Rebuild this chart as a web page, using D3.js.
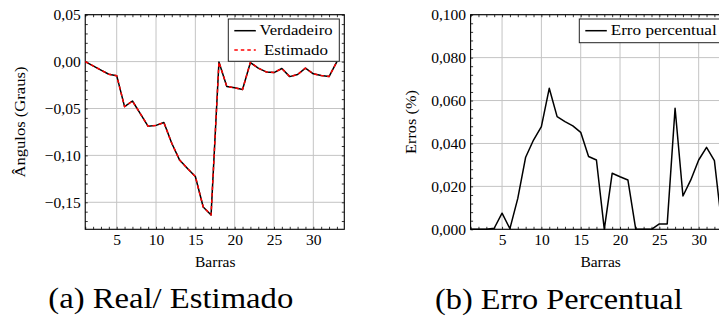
<!DOCTYPE html>
<html>
<head>
<meta charset="utf-8">
<script src="https://cdn.jsdelivr.net/npm/d3@7"></script>
<style>
body{margin:0;background:#fff}
svg{display:block}
svg text{font-family:"Liberation Serif" !important}
</style>
</head>
<body>
<svg width="719" height="320"></svg>
<script>
var barras = [1,2,3,4,5,6,7,8,9,10,11,12,13,14,15,16,17,18,19,20,21,22,23,24,25,26,27,28,29,30,31,32,33];
var verdadeiro = [0,-0.0045,-0.009,-0.0135,-0.015,-0.048,-0.042,-0.0555,-0.069,-0.068,-0.065,-0.087,-0.105,-0.114,-0.1225,-0.155,-0.1635,-0.0005,-0.0265,-0.028,-0.0297,-0.001,-0.007,-0.011,-0.0117,-0.0074,-0.016,-0.0138,-0.007,-0.013,-0.0148,-0.016,0];
var estimado = [0,-0.0045,-0.009,-0.0135,-0.015,-0.048,-0.042,-0.0555,-0.069,-0.068,-0.065,-0.087,-0.105,-0.114,-0.1225,-0.155,-0.1635,-0.0005,-0.0265,-0.028,-0.0297,-0.001,-0.007,-0.011,-0.0117,-0.0074,-0.016,-0.0138,-0.007,-0.013,-0.0148,-0.016,0];
var erroPercentual = [0,0,0,0.0005,0.0075,0.0003,0.0144,0.0336,0.0416,0.0478,0.0657,0.0525,0.0502,0.0482,0.0452,0.0339,0.0323,0,0.0261,0.0245,0.023,0,0,0,0.0025,0.0025,0.0564,0.0155,0.023,0.0323,0.0382,0.032,0];
var xTicks = [5,10,15,20,25,30];
var yTicksA = [-0.15,-0.10,-0.05,0.00,0.05];
var yTicksB = [0,0.02,0.04,0.06,0.08,0.10];

var svg = d3.select("svg");
var fs = 15.5;
var gridColor = "#c4c4c4";

var comma = function(f){ return function(d){ return f(d).replace(".", ","); }; };

var panel = function(o){
    var g = svg.append("g");
    var x = d3.scaleLinear().domain([1, 33.94]).range([o.left, o.left + 259.06]);
    var y = d3.scaleLinear().domain(o.yDom).range([229.3, 14.7]);
    var top = 14.7, bottom = 229.3, left = o.left, right = o.left + 259.06;

    // grid
    g.append("g").selectAll("line").data(xTicks).enter().append("line")
	.attr("x1", function(d){return x(d)}).attr("x2", function(d){return x(d)})
	.attr("y1", top).attr("y2", bottom)
	.attr("stroke", gridColor).attr("stroke-width", 1);
    g.append("g").selectAll("line").data(o.yTicks).enter().append("line")
	.attr("x1", left).attr("x2", right)
	.attr("y1", function(d){return y(d)}).attr("y2", function(d){return y(d)})
	.attr("stroke", gridColor).attr("stroke-width", 1);

    // inward ticks
    var xMinor = d3.range(1, 34, 1);
    var yMinor = d3.range(o.yDom[0] - (o.yDom[0] % o.yMinor), o.yDom[1] + 1e-9, o.yMinor);
    var tickAxes = [
	[d3.axisBottom(x).tickValues(xMinor), "translate(0," + bottom + ")"],
	[d3.axisTop(x).tickValues(xMinor), "translate(0," + top + ")"],
	[d3.axisLeft(y).tickValues(yMinor), "translate(" + left + ",0)"],
	[d3.axisRight(y).tickValues(yMinor), "translate(" + right + ",0)"]
    ];
    tickAxes.forEach(function(a){
	var ax = g.append("g").attr("transform", a[1])
	    .call(a[0].tickSize(-2.5).tickFormat(""));
	ax.select(".domain").remove();
	ax.selectAll("line").attr("stroke", "#000").attr("stroke-width", 0.8);
    });

    // tick labels
    var xl = g.append("g").attr("transform", "translate(0," + bottom + ")")
	.call(d3.axisBottom(x).tickValues(xTicks).tickSize(0).tickPadding(4.7));
    var yl = g.append("g").attr("transform", "translate(" + left + ",0)")
	.call(d3.axisLeft(y).tickValues(o.yTicks).tickSize(0).tickPadding(4.5).tickFormat(o.fmt));
    [xl, yl].forEach(function(ax){
	ax.select(".domain").remove();
	ax.attr("font-family", null).attr("font-size", fs);
	ax.selectAll("text").attr("fill", "#000");
    });

    // frame
    g.append("rect").attr("x", left).attr("y", top)
	.attr("width", right - left).attr("height", bottom - top)
	.attr("fill", "none").attr("stroke", "#000").attr("stroke-width", 1.1);

    // series
    o.series.forEach(function(s){
	g.append("path").datum(s.values)
	    .attr("d", d3.line().x(function(d, i){return x(barras[i])}).y(function(d){return y(d)}))
	    .attr("fill", "none").attr("stroke", s.color).attr("stroke-width", 1.5)
	    .attr("stroke-dasharray", s.dash).attr("stroke-linejoin", "round");
    });

    // axis labels
    g.append("text").attr("x", (left + right) / 2 + 0.5).attr("y", 266.7)
	.attr("text-anchor", "middle").attr("font-size", fs).text("Barras");
    g.append("text").attr("transform", "translate(" + o.ylabX + ",122) rotate(-90)")
	.attr("text-anchor", "middle").attr("font-size", fs)
	.attr("textLength", o.ylabLen).attr("lengthAdjust", "spacingAndGlyphs").text(o.ylab);

    // legend
    var lg = g.append("g");
    lg.append("rect").attr("x", o.leg.x).attr("y", 19).attr("width", o.leg.w).attr("height", o.leg.h)
	.attr("fill", "#fff").attr("stroke", "#222").attr("stroke-width", 1);
    o.series.forEach(function(s, i){
	var ly = 30.7 + i * 19.3;
	lg.append("line").attr("x1", o.leg.x + 6).attr("x2", o.leg.x + 27.5)
	    .attr("y1", ly).attr("y2", ly)
	    .attr("stroke", s.color).attr("stroke-width", 1.5).attr("stroke-dasharray", s.dash);
	lg.append("text").attr("x", o.leg.tx).attr("y", ly + 4.6)
	    .attr("text-anchor", o.leg.anchor).attr("font-size", fs)
	    .attr("textLength", s.len).attr("lengthAdjust", "spacingAndGlyphs").text(s.name);
    });

    // caption
    svg.append("text").attr("x", o.cap.x).attr("y", o.cap.y).attr("font-size", 28.5)
	.attr("textLength", o.cap.len).attr("lengthAdjust", "spacingAndGlyphs").text(o.cap.text);
};

panel({
    left: 85.24, yDom: [-0.1788, 0.05], yTicks: yTicksA, yMinor: 0.01,
    fmt: comma(d3.format(".2f")),
    ylab: "Ângulos (Graus)", ylabX: 25, ylabLen: 111,
    series: [
	{name: "Verdadeiro", values: verdadeiro, color: "#000", dash: null, len: 73},
	{name: "Estimado", values: estimado, color: "#ff0000", dash: "3.5,3", len: 64}
    ],
    leg: {x: 228.3, w: 111, h: 42.3, tx: 296, anchor: "middle"},
    cap: {x: 48.3, y: 308, len: 245, text: "(a) Real/ Estimado"}
});

panel({
    left: 470.6, yDom: [0, 0.1], yTicks: yTicksB, yMinor: 0.004,
    fmt: comma(d3.format(".3f")),
    ylab: "Erros (%)", ylabX: 416, ylabLen: 64,
    series: [
	{name: "Erro percentual", values: erroPercentual, color: "#000", dash: null, len: 106}
    ],
    leg: {x: 579.3, w: 146, h: 23.7, tx: 610.7, anchor: "start"},
    cap: {x: 435, y: 309, len: 247.7, text: "(b) Erro Percentual"}
});
</script>
</body>
</html>
